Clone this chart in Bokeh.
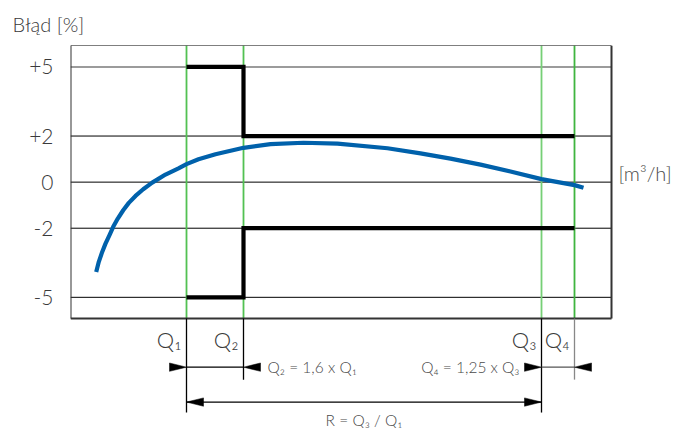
from bokeh.plotting import figure
from bokeh.models import Range1d, LinearAxis, FixedTicker
from bokeh.core.properties import value
from bokeh.embed import file_html
from bokeh.resources import INLINE

# ---- data ----
# schematic flow axis (arbitrary units); box spans 0..541
box_x = [0, 541]
box_y = [-5.92, 5.93]
q_names = ["Q\u2081", "Q\u2082", "Q\u2083", "Q\u2084"]
q_pos = [116, 173, 471, 504]
q_colors = ["#52c152", "#52c152", "#76cf76", "#3fb53f"]

y_ticks = [5, 2, 0, -2, -5]
y_tick_labels = ["+5", "+2", "0", "-2", "-5"]

# permissible error limits (step lines)
upper_x = [116, 173, 173, 504]
upper_y = [5, 5, 2, 2]
lower_x = [116, 173, 173, 504]
lower_y = [-5, -5, -2, -2]

# meter error curve
curve_x = [25.7, 28.3, 31.7, 35.0, 39.0, 42.7, 47.3, 52.7, 58.3, 65.0, 72.7, 81.7, 88.3,
           95.0, 108, 116, 128, 145, 173, 200, 233, 267, 317, 350, 380, 410, 440, 471, 504, 513]
curve_y = [-3.90, -3.46, -3.03, -2.67, -2.30, -1.94, -1.58, -1.22, -0.90, -0.60, -0.31, -0.02, 0.15,
           0.33, 0.60, 0.78, 0.99, 1.21, 1.49, 1.65, 1.71, 1.67, 1.47, 1.25, 1.02, 0.76, 0.46, 0.13, -0.13, -0.24]

FONT_NAME = "Lato Light"
FONT = value(FONT_NAME)
TXT = "#3a3a3a"

PX = 23.1          # pixels per y unit
TOP = 44           # frame top in canvas pixels
FIG_H = 428
Y_TOP = 5.93
Y_BOT = Y_TOP - (FIG_H - TOP) / PX

p = figure(width=680, height=FIG_H, output_backend="svg", toolbar_location=None,
           x_axis_type=None, y_axis_type=None,
           x_range=Range1d(0, 610), y_range=Range1d(Y_BOT, Y_TOP),
           min_border_left=70, min_border_right=0, min_border_top=TOP, min_border_bottom=0)
p.outline_line_color = None
p.background_fill_color = "white"
p.border_fill_color = "white"

p.title.text = "B\u0142\u0105d [%]"
p.title.align = "left"
p.title.offset = -58
p.title.standoff = 19
p.title.text_font = FONT_NAME
p.title.text_font_style = "normal"
p.title.text_font_size = "20px"
p.title.text_color = TXT

yax = LinearAxis(ticker=FixedTicker(ticks=y_ticks))
yax.major_label_overrides = {t: l for t, l in zip(y_ticks, y_tick_labels)}
yax.axis_line_color = None
yax.major_tick_line_color = None
yax.minor_tick_line_color = None
yax.major_tick_out = 0
yax.major_tick_in = 0
yax.minor_tick_out = 0
yax.major_label_standoff = 17
yax.major_label_text_font_size = "21px"
yax.major_label_text_color = TXT
yax.major_label_text_font = FONT_NAME
p.add_layout(yax, "left")

# horizontal grid lines
grid_colors = ["#7a7a7a" if t == 5 else "black" for t in y_ticks]
grid_widths = [1.6 if t == 5 else 1 for t in y_ticks]
p.segment(x0=[box_x[0]] * len(y_ticks), x1=[box_x[1]] * len(y_ticks), y0=y_ticks, y1=y_ticks,
          line_color=grid_colors, line_width=grid_widths)

# green vertical lines
p.segment(x0=q_pos, x1=q_pos, y0=[box_y[0]] * 4, y1=[box_y[1]] * 4,
          line_color=q_colors, line_width=1.8)

# frame
p.segment(x0=[box_x[0], box_x[1], box_x[0], box_x[0]],
          x1=[box_x[0], box_x[1], box_x[1], box_x[1]],
          y0=[box_y[0], box_y[0], box_y[1], box_y[0]],
          y1=[box_y[1], box_y[1], box_y[1], box_y[0]],
          line_color=["#333333", "#333333", "black", "#333333"],
          line_width=[2, 2, 1, 2])

# error limits
p.line(upper_x, upper_y, line_color="black", line_width=4.2, line_join="miter")
p.line(lower_x, lower_y, line_color="black", line_width=4.2, line_join="miter")

# error curve
p.line(curve_x, curve_y, line_color="#0061ab", line_width=4.2, line_cap="butt", line_join="round")

# ---- dimension lines below the chart ----
def yd(pix):  # canvas pixel -> data
    return Y_TOP - (pix - TOP) / PX

ext_bottom = [yd(412), yd(379), yd(412), yd(379)]
p.segment(x0=q_pos, x1=q_pos, y0=[box_y[0]] * 4, y1=ext_bottom,
          line_color=["black", "black", "black", "#888888"], line_width=1.3)

y_dim1 = yd(366.5)
y_dim2 = yd(401.5)
p.segment(x0=[q_pos[0], q_pos[2], q_pos[0]], x1=[q_pos[1], q_pos[3], q_pos[2]],
          y0=[y_dim1, y_dim1, y_dim2], y1=[y_dim1, y_dim1, y_dim2],
          line_color=["black", "#555555", "black"], line_width=1.2)

L = 17.0            # arrowhead length (x units = px)
H = 4.2 / PX        # arrowhead half width in y units
tips = [(q_pos[0], +1, y_dim1), (q_pos[1], -1, y_dim1), (q_pos[2], +1, y_dim1), (q_pos[3], -1, y_dim1),
        (q_pos[0], -1, y_dim2), (q_pos[2], +1, y_dim2)]
xs, ys = [], []
for tx, d, ty in tips:
    xs.append([tx, tx - d * L, tx - d * L])
    ys.append([ty, ty + H, ty - H])
p.patches(xs, ys, fill_color="black", line_color="black", line_width=0.5)

# Q labels
p.text(x=[q - 5 for q in q_pos], y=[yd(339)] * 4, text=q_names,
       text_align="right", text_baseline="middle", text_font=FONT,
       text_font_size="22px", text_color=TXT)

# formulas
p.text(x=[q_pos[1] + 24], y=[y_dim1], text=["Q\u2082 = 1,6 x Q\u2081"], text_align="left",
       text_baseline="middle", text_font=FONT, text_font_size="15.5px", text_color="#4a4a4a")
p.text(x=[q_pos[2] - 22], y=[y_dim1], text=["Q\u2084 = 1,25 x Q\u2083"], text_align="right",
       text_baseline="middle", text_font=FONT, text_font_size="15.5px", text_color="#4a4a4a")
p.text(x=[(q_pos[0] + q_pos[2]) / 2], y=[yd(419)], text=["R = Q\u2083 / Q\u2081"],
       text_align="center", text_baseline="middle", text_font=FONT, text_font_size="15.5px",
       text_color="#4a4a4a")

# unit label on the right
p.text(x=[box_x[1] + 7], y=[yd(172)], text=["[m\u00b3/h]"], text_align="left",
       text_baseline="middle", text_font=FONT, text_font_size="20px", text_color="#4a4a4a")

open("out.html", "w").write(file_html(p, INLINE))
